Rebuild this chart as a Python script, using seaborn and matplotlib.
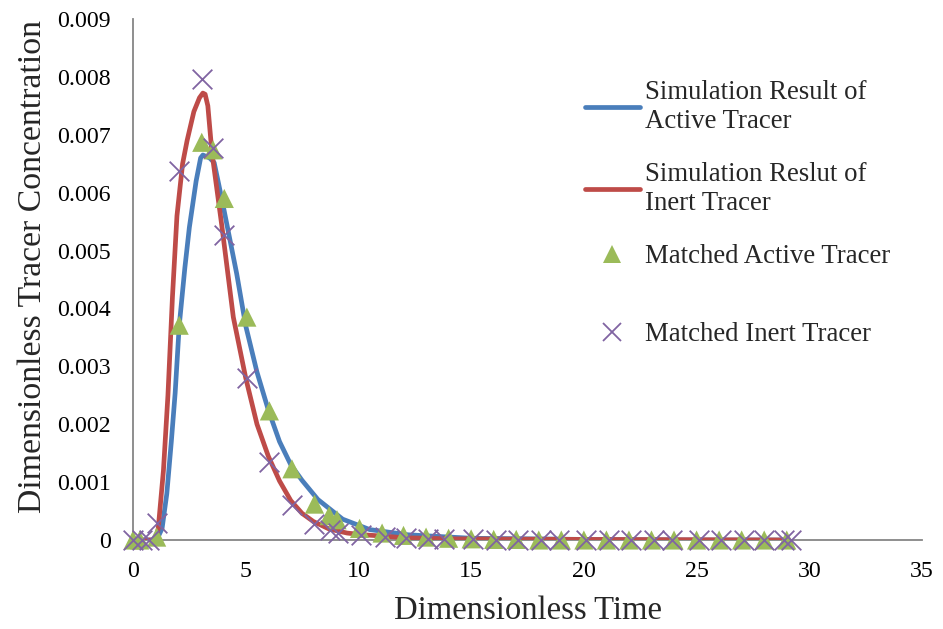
import matplotlib
matplotlib.use("Agg")
import matplotlib.pyplot as plt
import seaborn as sns
import numpy as np
from matplotlib.lines import Line2D

# ---- data ----
t_sim_active = [0, 0.5, 1.05, 1.29, 1.5, 1.7, 1.87, 2.05, 2.3, 2.5, 2.8, 3.0, 3.1, 3.4, 3.6, 3.95, 4.6,
                5.0, 5.5, 6.0, 6.5, 7.0, 7.5, 8.2, 9.3, 10.5, 12.2, 15, 20, 25, 29]
c_sim_active = [0, 0, 0, 0.0002, 0.0008, 0.0017, 0.00254, 0.0037, 0.0047, 0.0054, 0.0062, 0.0066, 0.00665,
                0.0066, 0.00652, 0.00587, 0.0046, 0.0037, 0.0029, 0.00225, 0.0017, 0.0013, 0.00103, 0.0007,
                0.00036, 0.00018, 0.00009, 0.00003, 0.00001, 0, 0]

t_sim_inert = [0, 0.5, 1.0, 1.12, 1.35, 1.55, 1.75, 1.95, 2.2, 2.4, 2.7, 2.95, 3.1, 3.2, 3.32, 3.5, 3.95,
               4.45, 5.0, 5.5, 6.0, 6.5, 7.0, 7.5, 8.0, 8.7, 9.5, 10.2, 11, 12, 14, 20, 29]
c_sim_inert = [0, 0, 0, 0.0002, 0.0012, 0.0025, 0.0042, 0.0056, 0.0065, 0.0069, 0.0074, 0.00764, 0.00772,
               0.0077, 0.0075, 0.0067, 0.0054, 0.00385, 0.0028, 0.002, 0.00145, 0.00102, 0.00068, 0.00046,
               0.00032, 0.00019, 0.00012, 0.00009, 0.00007, 0.00004, 0.00002, 0.00001, 0]

t_match_active = [0, 0.3, 1.05, 2.05, 3.05, 3.55, 4.05, 5.05, 6.05, 7.05, 8.05, 8.7, 9.05, 10.05, 11.05,
                  12, 13, 14, 15, 16, 17, 18, 19, 20, 21, 22, 23, 24, 25, 26, 27, 28, 29]
c_match_active = [0, 0, 0.00005, 0.00371, 0.00687, 0.00674, 0.0059, 0.00385, 0.00223, 0.00123, 0.00062,
                  0.00042, 0.00035, 0.0002, 0.00012, 0.00008, 0.00005, 0.00003, 0.00002, 0.00001, 0.00001,
                  0, 0, 0, 0, 0, 0, 0, 0, 0, 0, 0, 0]

t_match_inert = [0, 0.4, 0.7, 1.05, 2.05, 3.05, 3.55, 4.05, 5.05, 6.05, 7.05, 8.05, 8.75, 9.1, 10.1, 11.2,
                 12.1, 13.1, 13.8, 15.1, 16.1, 17.1, 18.1, 18.9, 20.1, 21.1, 22.1, 23.1, 23.9, 25.1, 26.1,
                 27.1, 28.0, 28.9, 29.2]
c_match_inert = [0, 0, 0, 0.0003, 0.00637, 0.00796, 0.00678, 0.00527, 0.0028, 0.00134, 0.0006, 0.00027,
                 0.00018, 0.00012, 0.00008, 0.00005, 0.00003, 0.00002, 0.00001, 0.00001, 0, 0, 0, 0, 0, 0,
                 0, 0, 0, 0, 0, 0, 0, 0, 0]

labels = ["Simulation Result of\nActive Tracer", "Simulation Reslut of\nInert Tracer",
          "Matched Active Tracer", "Matched Inert Tracer"]
x_ticks = [0, 5, 10, 15, 20, 25, 30, 35]
y_ticks = [0, 0.001, 0.002, 0.003, 0.004, 0.005, 0.006, 0.007, 0.008, 0.009]

BLUE, RED, GREEN, PURPLE = "#4A7EBB", "#BE4B48", "#9BBB59", "#8064A2"

sns.set_style("white")
plt.rcParams["font.family"] = ["Liberation Serif", "DejaVu Serif"]

fig = plt.figure(figsize=(9.43, 6.29), dpi=100)
ax = fig.add_axes([133 / 943, 1 - 540 / 629, (922 - 133) / 943, (540 - 19) / 629])

sns.lineplot(x=t_sim_active, y=c_sim_active, ax=ax, color=BLUE, linewidth=3.4, sort=False,
             estimator=None, legend=False, zorder=2)
sns.lineplot(x=t_sim_inert, y=c_sim_inert, ax=ax, color=RED, linewidth=3.4, sort=False,
             estimator=None, legend=False, zorder=3)
sns.scatterplot(x=t_match_active, y=c_match_active, ax=ax, marker="^", s=190, color=GREEN,
                edgecolor="none", legend=False, zorder=4, clip_on=False)
sns.scatterplot(x=t_match_inert, y=c_match_inert, ax=ax, marker="x", s=200, color=PURPLE,
                linewidth=1.3, legend=False, zorder=5, clip_on=False)

ax.set_xlim(0, 35)
ax.set_ylim(0, 0.009)
ax.set_xticks(x_ticks)
ax.set_xticklabels([str(v) for v in x_ticks])
ax.set_yticks(y_ticks)
ax.set_yticklabels(["0"] + [f"{v:.3f}" for v in y_ticks[1:]])
ax.tick_params(axis="both", labelsize=17.2, length=0, colors="black")
ax.tick_params(axis="y", pad=16)
ax.tick_params(axis="x", pad=15)

for s in ["top", "right"]:
    ax.spines[s].set_visible(False)
for s in ["left", "bottom"]:
    ax.spines[s].set_color("#868686")
    ax.spines[s].set_linewidth(1.3)

ax.set_xlabel("Dimensionless Time", fontsize=23.5, labelpad=10)
ax.set_ylabel("Dimensionless Tracer Concentration", fontsize=24.3)
ax.yaxis.set_label_coords(-0.108, 0.524)

handles = [
    Line2D([], [], color=BLUE, linewidth=3.4, solid_capstyle="round"),
    Line2D([], [], color=RED, linewidth=3.4, solid_capstyle="round"),
    Line2D([], [], color=GREEN, marker="^", linestyle="none", markersize=13, markeredgewidth=0),
    Line2D([], [], color=PURPLE, marker="x", linestyle="none", markersize=13, markeredgewidth=1.3),
]
leg_kw = dict(loc="upper left", frameon=False, fontsize=19.3, handlelength=2.05, handletextpad=0.2,
              borderpad=0, borderaxespad=0)
leg1 = fig.legend(handles[:3], labels[:3], bbox_to_anchor=(585 / 943, 1 - 80 / 629),
                  labelspacing=1.06, **leg_kw)
leg2 = fig.legend(handles[3:], labels[3:], bbox_to_anchor=(585 / 943, 1 - 322 / 629),
                  labelspacing=0.8, **leg_kw)

fig.savefig("out.png", dpi=100)
